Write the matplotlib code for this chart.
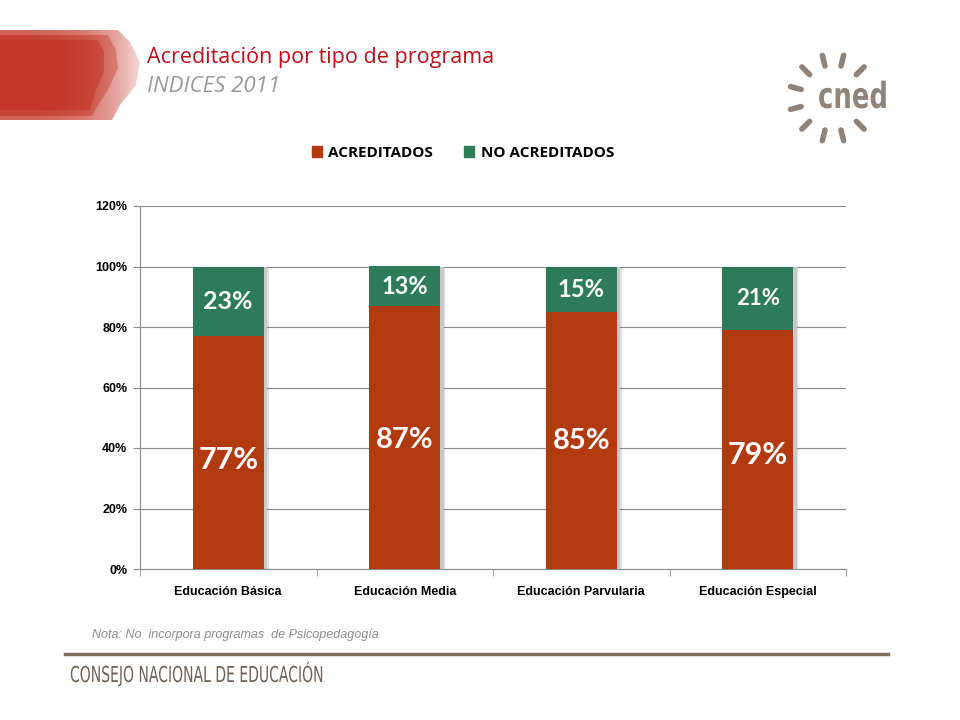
import numpy as np
import matplotlib
matplotlib.use("Agg")
import matplotlib.pyplot as plt
import matplotlib.patheffects as pe
from matplotlib.ticker import FuncFormatter
from matplotlib.textpath import TextPath
from matplotlib.font_manager import FontProperties
from matplotlib.patches import PathPatch, Patch, Polygon
from matplotlib.transforms import Affine2D

categorias = ["Educación Básica", "Educación Media", "Educación Parvularia", "Educación Especial"]
acreditados = [77, 87, 85, 79]
no_acreditados = [23, 13, 15, 21]
etiq_acred = ["77%", "87%", "85%", "79%"]
etiq_no_acred = ["23%", "13%", "15%", "21%"]
yticks = [0, 20, 40, 60, 80, 100, 120]

ROJO = "#B13A0E"
VERDE = "#2E7B5A"
GRIS = "#8A8A8A"
MARRON = "#8F837A"


def texto_estrecho(ax, s, x, y, size, color, escala=0.72, weight="normal"):
    """texto condensado: se dibuja como path y se comprime en horizontal"""
    tp = TextPath((0, 0), s, size=size, prop=FontProperties(family="DejaVu Sans", weight=weight))
    tr = Affine2D().scale(escala, -1).translate(x, y)
    ax.add_patch(PathPatch(tr.transform_path(tp), color=color, lw=0))


fig = plt.figure(figsize=(9.6, 7.2), dpi=100)

# capa de pixeles para los adornos de la lamina
fondo = fig.add_axes([0, 0, 1, 1], zorder=-1)
fondo.axis("off")

# franja roja con bordes curvos
grad = np.linspace(0, 1, 300)
img = np.zeros((1, 300, 4))
img[..., 0] = 0.76
img[..., 1] = 0.18
img[..., 2] = 0.12
img[..., 3] = np.clip(1.0 - 0.85 * grad ** 3, 0, 1)
capas = [
    ([(0, 30), (118, 30), (130, 42), (140, 62), (136, 85), (120, 105), (112, 120), (0, 120)], 0.75),
    ([(0, 35), (108, 35), (116, 50), (118, 68), (108, 90), (95, 110), (92, 116), (0, 116)], 0.6),
    ([(0, 40), (98, 40), (104, 52), (104, 72), (96, 90), (90, 110), (0, 110)], 0.6),
]
for pts, alfa in capas:
    poly = Polygon(pts, closed=True, facecolor="none", edgecolor="none")
    fondo.add_patch(poly)
    im = fondo.imshow(img, aspect="auto", extent=[0, 145, 120, 30], alpha=alfa)
    im.set_clip_path(poly)
fondo.set_xlim(0, 960)
fondo.set_ylim(720, 0)

fondo.text(147, 57, "Acreditación por tipo de programa", color="#B8121B",
           fontsize=15.5, family="Open Sans", va="center")
fondo.text(147, 86, "INDICES 2011", color="#9A9A9A", fontsize=16,
           family="Open Sans", style="italic", va="center")

# logo cned
cx, cy = 833, 98
for ang in [76, 104, 45, 135, 165, 195, 225, 315, 256, 284]:
    a = np.deg2rad(ang)
    r1, r2 = 33, 44
    fondo.plot([cx + r1 * np.cos(a), cx + r2 * np.cos(a)],
               [cy - r1 * np.sin(a), cy - r2 * np.sin(a)],
               color=MARRON, lw=4, solid_capstyle="round")
texto_estrecho(fondo, "cned", 818, 108, 36, MARRON, escala=0.72, weight="bold")

# pie de pagina
fondo.text(92, 635, "Nota: No  incorpora programas  de Psicopedagogía",
           fontsize=9, style="italic", color="#8C8C8C", family="Liberation Sans", va="center")
fondo.plot([65, 888], [654, 654], color="#7F7262", lw=2.5)
texto_estrecho(fondo, "CONSEJO NACIONAL DE EDUCACIÓN", 70, 682, 22, "#6E6259", escala=0.635)

# grafico
ax = fig.add_axes([140 / 960, 1 - 569 / 720, 706 / 960, 363 / 720])
x = np.arange(len(categorias))
totales = [a + b for a, b in zip(acreditados, no_acreditados)]
ax.bar(x + 0.022, totales, 0.4, color="#C8C8C8", zorder=2, lw=0,
       path_effects=[pe.withSimplePatchShadow(offset=(1, 0), alpha=0.15)])
ax.bar(x, acreditados, 0.4, color=ROJO, zorder=3, lw=0)
ax.bar(x, no_acreditados, 0.4, bottom=acreditados, color=VERDE, zorder=3, lw=0)

tam_abajo = [22, 21, 21, 22]
pos_abajo = [36, 42.6, 42.3, 37.7]
tam_arriba = [18, 17, 17, 16]
for i in range(len(categorias)):
    ax.text(x[i], pos_abajo[i], etiq_acred[i], color="white", fontsize=tam_abajo[i],
            fontweight="bold", family="Lato", ha="center", va="center", zorder=4)
    ax.text(x[i], acreditados[i] + no_acreditados[i] / 2, etiq_no_acred[i], color="white",
            fontsize=tam_arriba[i], fontweight="bold", family="Lato",
            ha="center", va="center", zorder=4)

ax.set_xlim(-0.5, 3.5)
ax.set_ylim(0, 120)
ax.set_yticks(yticks)
ax.yaxis.set_major_formatter(FuncFormatter(lambda v, p: f"{v:.0f}%"))
ax.grid(axis="y", color=GRIS, lw=0.8, zorder=0)
ax.set_xticks(x)
ax.set_xticklabels(categorias)
ax.set_xticks(np.arange(-0.5, 4, 1), minor=True)
ax.tick_params(axis="x", which="major", length=0, pad=12)
ax.tick_params(axis="x", which="minor", length=5, color=GRIS)
ax.tick_params(axis="y", length=5, color=GRIS, pad=4)
for lab in ax.get_xticklabels() + ax.get_yticklabels():
    lab.set_family("Liberation Sans")
    lab.set_fontweight("bold")
    lab.set_fontsize(9)
for s in ["top", "right"]:
    ax.spines[s].set_visible(False)
ax.spines["left"].set_color(GRIS)
ax.spines["bottom"].set_color(GRIS)

manijas = [Patch(color=ROJO, label="ACREDITADOS"), Patch(color=VERDE, label="NO ACREDITADOS")]
fig.legend(handles=manijas, loc="center", bbox_to_anchor=(0.482, 1 - 153 / 720),
           ncol=2, frameon=False, handlelength=0.7, handleheight=0.7,
           handletextpad=0.4, columnspacing=2.0,
           prop={"family": "Open Sans", "weight": "bold", "size": 11})

fig.savefig("out.png", dpi=100)
